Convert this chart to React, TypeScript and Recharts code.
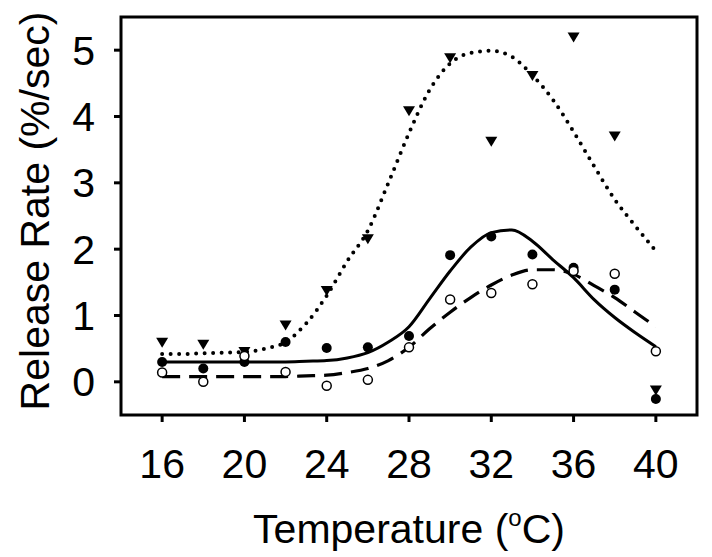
import React from 'react';
import { ComposedChart, XAxis, YAxis, Line, Scatter, ReferenceArea, Label } from 'recharts';

// measured temperatures (°C)
const temps = [16, 18, 20, 22, 24, 26, 28, 30, 32, 34, 36, 38, 40];
const triangleRates = [0.59, 0.56, 0.45, 0.85, 1.37, 2.15, 4.08, 4.88, 3.62, 4.61, 5.19, 3.7, -0.13];
const filledRates = [0.3, 0.2, 0.3, 0.6, 0.51, 0.52, 0.69, 1.91, 2.19, 1.92, 1.72, 1.39, -0.26];
const openRates = [0.14, 0.0, 0.39, 0.15, -0.06, 0.03, 0.52, 1.24, 1.34, 1.47, 1.67, 1.63, 0.46];

// fitted curves, one value per degree
const fitTemps = [16, 17, 18, 19, 20, 21, 22, 23, 24, 25, 26, 27, 28, 29, 30, 31, 32, 33, 34, 35, 36, 37, 38, 39, 40];
const dottedFit = [0.42, 0.42, 0.43, 0.44, 0.45, 0.5, 0.6, 0.88, 1.3, 1.82, 2.28, 3.0, 3.75, 4.4, 4.8, 4.96, 4.99, 4.9, 4.62, 4.25, 3.77, 3.25, 2.75, 2.35, 1.97];
const solidFit = [0.3, 0.3, 0.3, 0.3, 0.3, 0.3, 0.3, 0.31, 0.32, 0.36, 0.44, 0.6, 0.83, 1.25, 1.67, 2.03, 2.25, 2.29, 2.12, 1.84, 1.57, 1.24, 0.97, 0.74, 0.53];
const dashedFit = [0.08, 0.08, 0.08, 0.08, 0.08, 0.08, 0.08, 0.09, 0.1, 0.14, 0.2, 0.32, 0.52, 0.8, 1.05, 1.27, 1.46, 1.61, 1.69, 1.69, 1.62, 1.45, 1.27, 1.05, 0.83];

const xTicks = [16, 20, 24, 28, 32, 36, 40];
const yTicks = [0, 1, 2, 3, 4, 5];

const pts = (xs: number[], ys: number[]) => xs.map((x, i) => ({ x, y: ys[i] }));

const FONT = '"Liberation Sans", Arial, sans-serif';

const Triangle = (p: any) => (
  <path d={`M${p.cx - 6},${p.cy - 5} L${p.cx + 6},${p.cy - 5} L${p.cx},${p.cy + 5} Z`} fill="#000" />
);
const Dot = (p: any) => <circle cx={p.cx} cy={p.cy} r={5} fill="#000" />;
const OpenDot = (p: any) => <circle cx={p.cx} cy={p.cy} r={4.5} fill="#fff" stroke="#000" strokeWidth={1.5} />;

const XTitle = ({ viewBox }: any) => (
  <text x={viewBox.x + viewBox.width / 2} y={viewBox.y + 128} textAnchor="middle" fontSize={41} fontFamily={FONT} fill="#000">
    Temperature (<tspan fontSize={24} dy={-17}>o</tspan><tspan dy={17}>C)</tspan>
  </text>
);

const YTitle = ({ viewBox }: any) => {
  const x = viewBox.x + 49;
  const y = viewBox.y + viewBox.height / 2 - 5;
  return (
    <text x={x} y={y} transform={`rotate(-90, ${x}, ${y})`} textAnchor="middle" fontSize={41} fontFamily={FONT} fill="#000">
      Release Rate (%/sec)
    </text>
  );
};

export default function App() {
  const tick = { fill: '#000', fontSize: 41, fontFamily: FONT };
  return (
    <div style={{ position: 'absolute', left: 0, top: 0, background: '#fff' }}>
      <ComposedChart width={712} height={557} margin={{ top: 17, right: 15, bottom: 0, left: 0 }}>
        <XAxis
          type="number"
          dataKey="x"
          domain={[14, 42]}
          ticks={xTicks}
          height={142}
          axisLine={false}
          tickLine={{ stroke: '#000', strokeWidth: 3 }}
          tickSize={7}
          tickMargin={27}
          tick={tick}
        >
          <Label content={<XTitle />} />
        </XAxis>
        <YAxis
          type="number"
          domain={[-0.5, 5.5]}
          ticks={yTicks}
          width={121}
          axisLine={false}
          tickLine={{ stroke: '#000', strokeWidth: 3 }}
          tickSize={7}
          tickMargin={19}
          tick={tick}
        >
          <Label content={<YTitle />} />
        </YAxis>
        <Line data={pts(fitTemps, dottedFit)} dataKey="y" type="monotone" stroke="#000" strokeWidth={4} strokeDasharray="0 8.5" strokeLinecap="round" dot={false} isAnimationActive={false} />
        <Line data={pts(fitTemps, solidFit)} dataKey="y" type="monotone" stroke="#000" strokeWidth={3} dot={false} isAnimationActive={false} />
        <Line data={pts(fitTemps, dashedFit)} dataKey="y" type="monotone" stroke="#000" strokeWidth={3.2} strokeDasharray="18 9" dot={false} isAnimationActive={false} />
        <Scatter data={pts(temps, triangleRates)} dataKey="y" shape={<Triangle />} isAnimationActive={false} />
        <Scatter data={pts(temps, filledRates)} dataKey="y" shape={<Dot />} isAnimationActive={false} />
        <Scatter data={pts(temps, openRates)} dataKey="y" shape={<OpenDot />} isAnimationActive={false} />
        <ReferenceArea x1={14} x2={42} y1={-0.5} y2={5.5} fill="none" stroke="#000" strokeWidth={3} ifOverflow="visible" />
      </ComposedChart>
    </div>
  );
}
